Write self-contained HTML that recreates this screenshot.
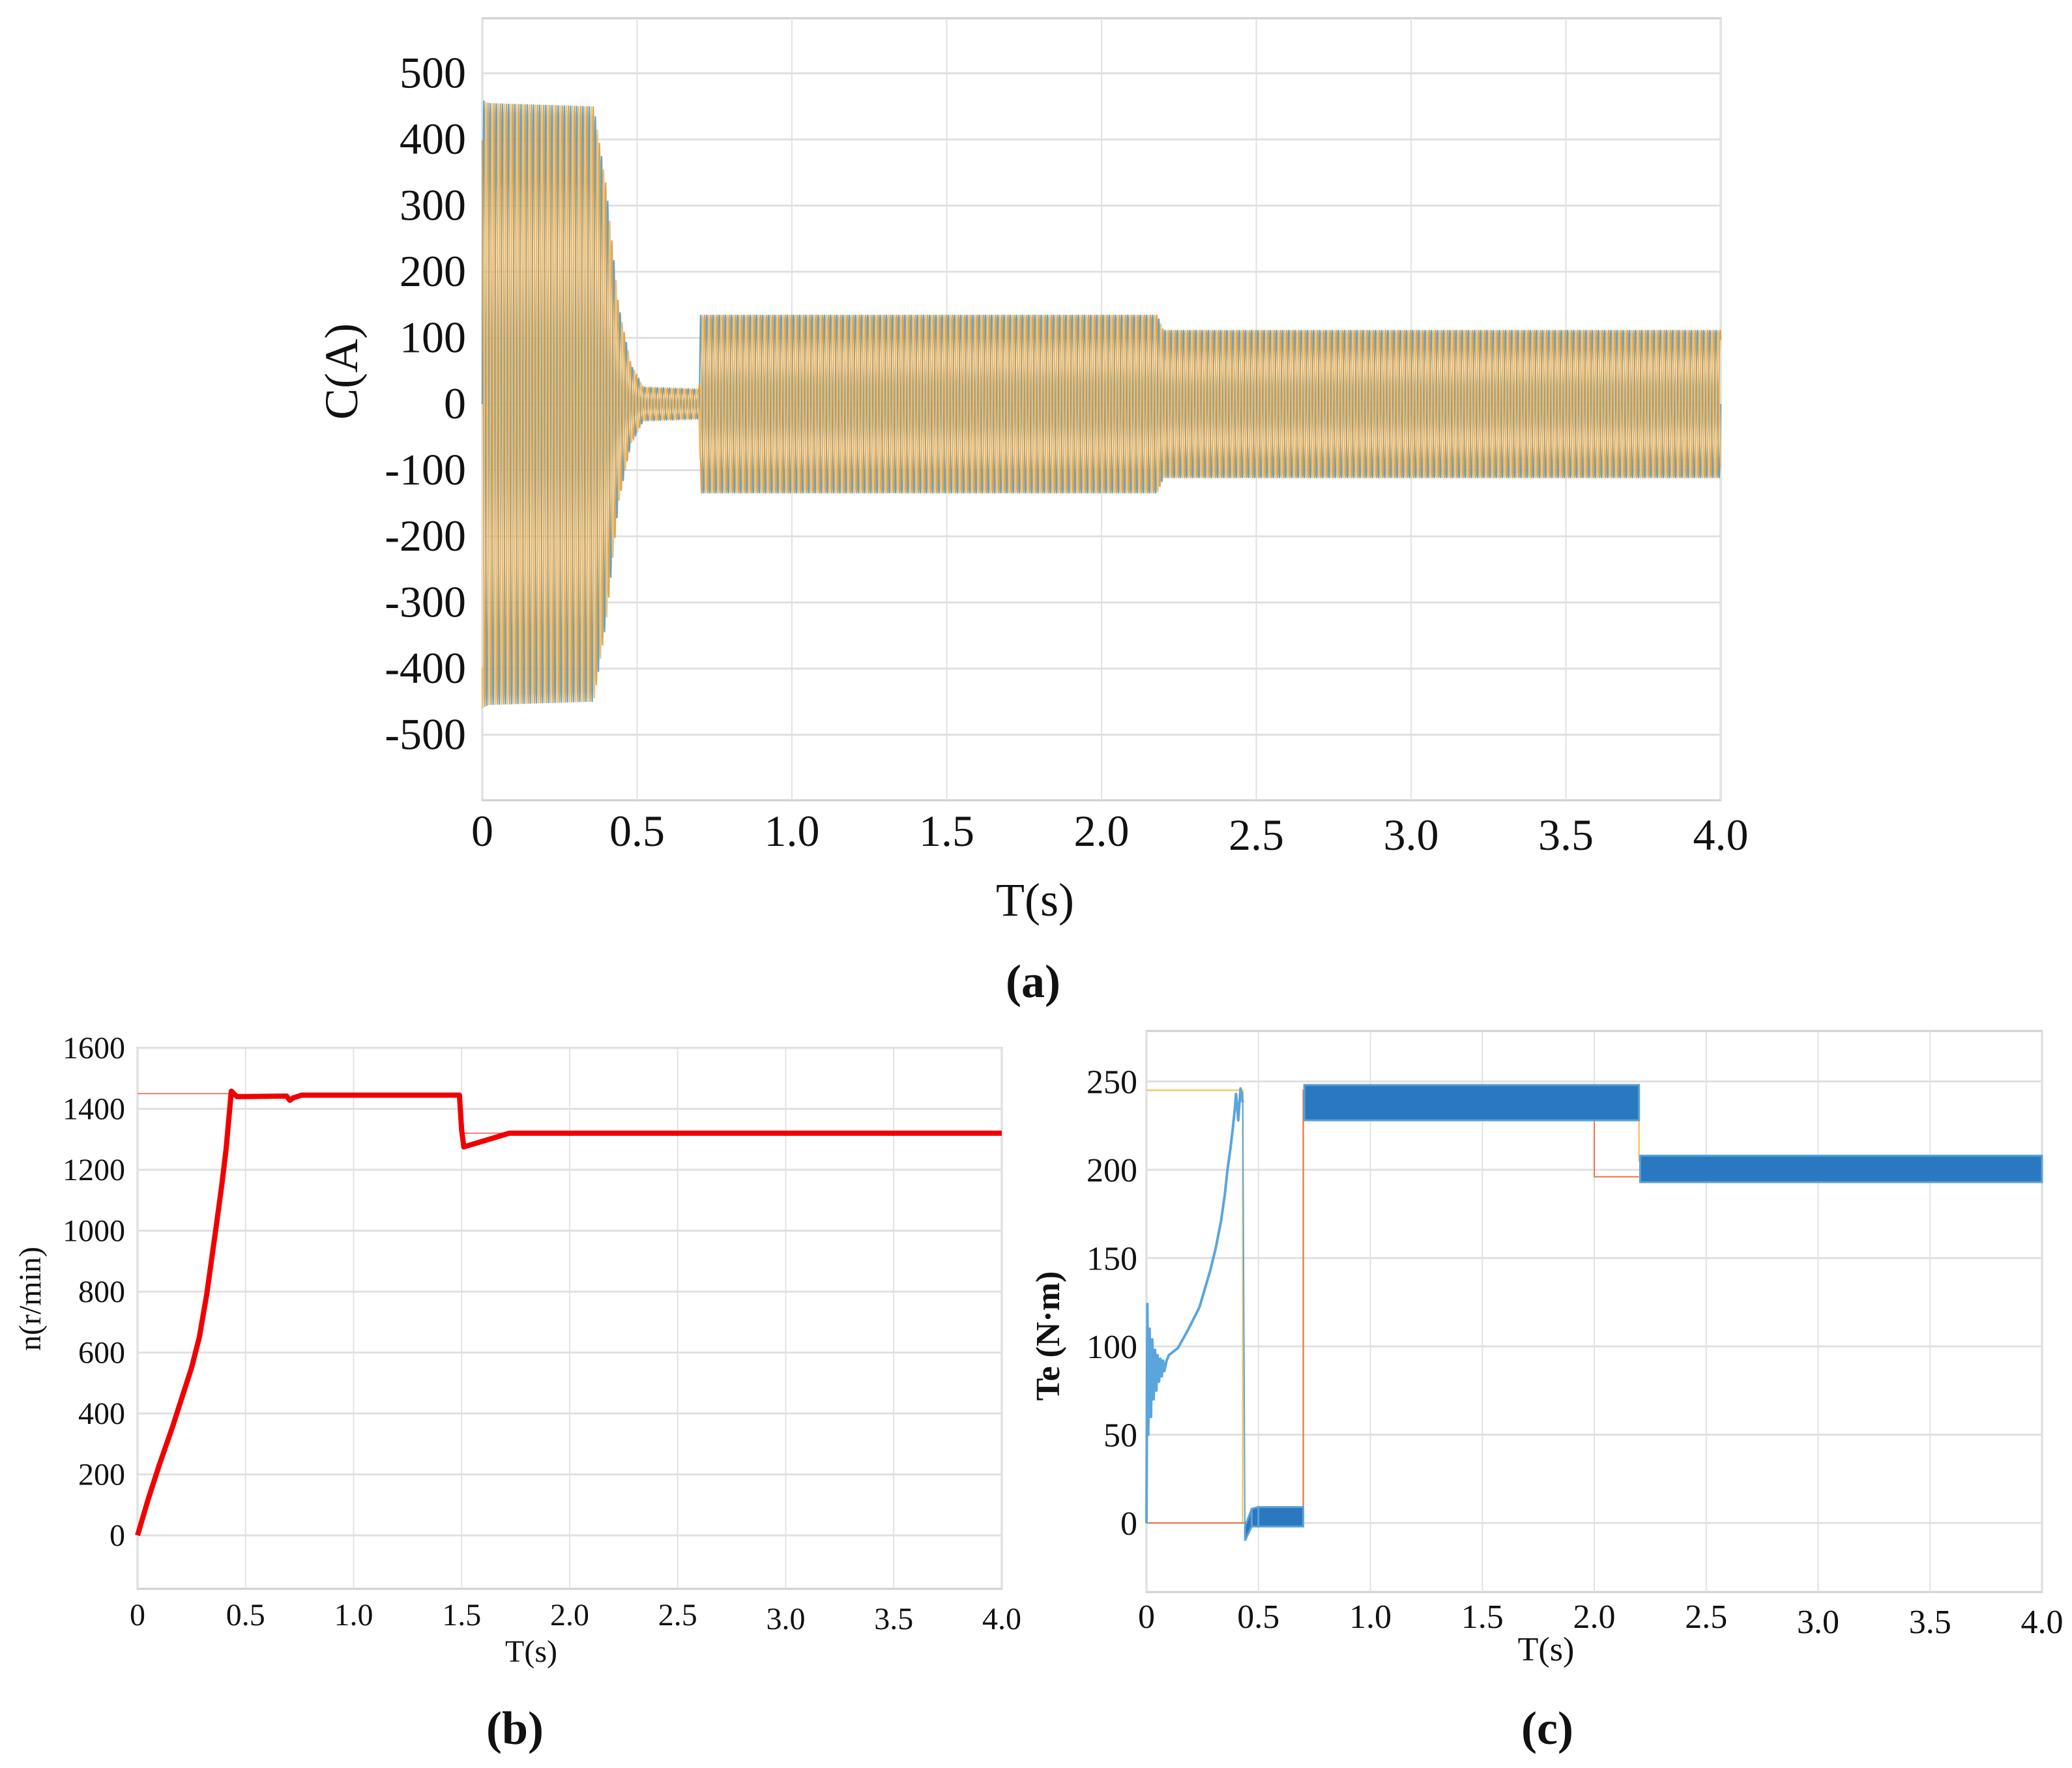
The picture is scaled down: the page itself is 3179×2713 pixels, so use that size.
<!DOCTYPE html>
<html><head><meta charset="utf-8">
<style>
html,body{margin:0;padding:0;background:#fff;}
svg{display:block;font-family:"Liberation Serif",serif;}
</style></head>
<body>
<svg id="fig" width="3179" height="2713" viewBox="0 0 3179 2713" xmlns="http://www.w3.org/2000/svg"></svg>
<script>
// ---------- Chart (a) data: current envelopes ----------
const aTicksX = ["0","0.5","1.0","1.5","2.0","2.5","3.0","3.5","4.0"];
const aTickVals = [0,0.5,1,1.5,2,2.5,3,3.5,4];
const aTicksY = [500,400,300,200,100,0,-100,-200,-300,-400,-500];
const aEnvT = [0,0.02,0.36,0.40,0.44,0.48,0.52,0.70,0.705,2.18,2.2,4.0];
const aEnvA = [460,455,450,330,150,60,25,22,135,135,112,112];
const aFreq = 50;
// ---------- Chart (b) data: speed ----------
const bTicksY = [0,200,400,600,800,1000,1200,1400,1600];
const bSpeedT = [0,0.05,0.1,0.163,0.2,0.25,0.286,0.32,0.363,0.39,0.41,0.434,0.445,0.46,0.69,0.705,0.72,0.76,1.49,1.50,1.51,1.72,4.0];
const bSpeedN = [0,120,230,358,440,550,650,790,1008,1150,1268,1458,1450,1440,1442,1428,1436,1445,1445,1330,1275,1320,1320];
const bRefT = [0,0.45];
const bRefN = [1450,1450];
const bRef2T = [1.5,4.0];
const bRef2N = [1320,1320];
// ---------- Chart (c) data: torque ----------
const cTicksY = [0,50,100,150,200,250];
const cStartT = [0,0.004,0.008,0.014,0.02,0.026,0.032,0.038,0.044,0.05,0.056,0.062,0.068,0.074,0.08,0.09,0.1,0.14,0.18,0.236,0.285,0.31,0.333,0.35,0.362,0.375,0.386,0.395,0.40,0.41,0.42,0.43];
const cStartV = [0,124,50,110,60,104,70,98,75,95,80,93,83,92,86,92,95,99,108,122,143,156,171,186,200,212,224,235,243,228,246,238];
const cBandT = [0.44,0.47,0.5,0.7,0.705,2.2,2.205,4.0];
const cBandLo = [-10,-2,-2,-2,228,228,193,193];
const cBandHi = [-2,8,9,9,248,248,208,208];
const cYellowT = [0,0.43,0.43,0.7,0.7,2.2,2.2,4.0];
const cYellowV = [245,245,0,0,245,245,205,205];
const cRedT = [0,0.44,0.44,0.7,0.7,2.0,2.0,2.2];
const cRedV = [0,0,0,0,245,245,196,196];

const NS="http://www.w3.org/2000/svg";
const svg=document.getElementById('fig');
function el(tag,attrs,parent){const e=document.createElementNS(NS,tag);for(const k in attrs)e.setAttribute(k,attrs[k]);(parent||svg).appendChild(e);return e;}
function txt(s,attrs,parent){const e=el('text',attrs,parent);e.textContent=s;return e;}

function drawFrame(g,box,X,Y,yVals,xVals){
  const bg=el('rect',{x:box.l,y:box.t,width:box.r-box.l,height:box.b-box.t,fill:'#fff',stroke:'#cfcfcf','stroke-width':3},g);
  
  
  xVals.forEach(v=>{const l=el('line',{x1:X(v),x2:X(v),y1:box.t,y2:box.b,stroke:'#e2e2e2','stroke-width':2},g);
    });
  yVals.forEach(v=>{const l=el('line',{x1:box.l,x2:box.r,y1:Y(v),y2:Y(v),stroke:'#e0e0e0','stroke-width':3},g);
    });
}
function interp(ts,vs,t){for(let i=1;i<ts.length;i++){if(t<=ts[i]){const f=(t-ts[i-1])/((ts[i]-ts[i-1])||1);return vs[i-1]+f*(vs[i]-vs[i-1]);}}return vs[vs.length-1];}
function polyPts(ts,vs,X,Y){return ts.map((t,i)=>X(t).toFixed(1)+','+Y(vs[i]).toFixed(1)).join(' ');}

// ===== Chart (a) =====
(function(){
  const g=el('g',{});
  const box={l:740,r:2640,t:28,b:1228};
  const X=t=>box.l+t/4*(box.r-box.l);
  const Y=v=>620-v*1.015;
  drawFrame(g,box,X,Y,aTicksY,aTickVals);
  const cols=['#4a9ad0','#d89a40','#eebb66'];
  const N=aFreq*4*24;
  for(let p=0;p<3;p++){
    let pts=[];
    for(let i=0;i<=N;i++){const t=i/N*4;const A=interp(aEnvT,aEnvA,t);
      pts.push(X(t).toFixed(1)+','+Y(A*Math.sin(2*Math.PI*aFreq*t+p*2.094)).toFixed(1));}
    const pl=el('polyline',{points:pts.join(' '),fill:'none',stroke:cols[p],'stroke-width':2.2,'stroke-opacity':0.9},g);
    
  }
  aTicksY.forEach(v=>{const s=(v<0?'-'+(-v):''+v);const t=txt(s,{x:715,y:Y(v)+22,'font-size':68,'text-anchor':'end',fill:'#111'},g);
    });
  aTicksX.forEach((s,i)=>{const t=txt(s,{x:X(aTickVals[i]),y:1298+(i>=5?6:0),'font-size':68,'text-anchor':'middle',fill:'#111'},g);
    });
  const xt=txt('T(s)',{x:1588,y:1405,'font-size':72,'text-anchor':'middle',fill:'#111'},g);
  
  const yt=txt('C(A)',{x:0,y:0,'font-size':72,'text-anchor':'middle',fill:'#111',transform:'translate(548,570) rotate(-90)'},g);
  
  const cap=txt('(a)',{x:1585,y:1530,'font-size':72,'text-anchor':'middle',fill:'#111','font-weight':'bold'},g);
  
})();

// ===== Chart (b) =====
(function(){
  const g=el('g',{});
  const box={l:211,r:1537,t:1608,b:2438};
  const X=t=>box.l+t/4*(box.r-box.l);
  const Y=v=>2356-v*0.4675;
  drawFrame(g,box,X,Y,bTicksY,aTickVals);
  const r1=el('polyline',{points:polyPts(bRefT,bRefN,X,Y),fill:'none',stroke:'#f08070','stroke-width':2},g);
  
  const r2=el('polyline',{points:polyPts(bRef2T,bRef2N,X,Y),fill:'none',stroke:'#f08070','stroke-width':2},g);
  
  const sp=el('polyline',{points:polyPts(bSpeedT,bSpeedN,X,Y),fill:'none',stroke:'#f00000','stroke-width':8,'stroke-linejoin':'round'},g);
  
  bTicksY.forEach(v=>{const t=txt(''+v,{x:192,y:Y(v)+16,'font-size':48,'text-anchor':'end',fill:'#111'},g);
    });
  aTicksX.forEach((s,i)=>{const t=txt(s,{x:X(aTickVals[i]),y:2494+(i>=6?6:0),'font-size':48,'text-anchor':'middle',fill:'#111'},g);
    });
  const xt=txt('T(s)',{x:815,y:2550,'font-size':48,'text-anchor':'middle',fill:'#111'},g);
  
  const yt=txt('n(r/min)',{x:0,y:0,'font-size':48,'text-anchor':'middle',fill:'#111',transform:'translate(62,1993) rotate(-90)'},g);
  
  const cap=txt('(b)',{x:790,y:2676,'font-size':72,'text-anchor':'middle',fill:'#111','font-weight':'bold'},g);
  
})();

// ===== Chart (c) =====
(function(){
  const g=el('g',{});
  const box={l:1759,r:3133,t:1582,b:2443};
  const X=t=>box.l+t/4*(box.r-box.l);
  const Y=v=>2337-v*2.71;
  drawFrame(g,box,X,Y,cTicksY,aTickVals);
  const yl=el('polyline',{points:polyPts(cYellowT,cYellowV,X,Y),fill:'none',stroke:'#f5c860','stroke-width':2.5},g);
  
  const rd=el('polyline',{points:polyPts(cRedT,cRedV,X,Y),fill:'none',stroke:'#f07050','stroke-width':2},g);
  
  const st=el('polyline',{points:polyPts(cStartT,cStartV,X,Y),fill:'none',stroke:'#5aa5dc','stroke-width':4,'stroke-linejoin':'round'},g);
  
  for(let i=0;i<cBandT.length-1;i++){
    if(cBandT[i+1]-cBandT[i]<0.01) continue;
    const x1=X(cBandT[i]),x2=X(cBandT[i+1]);
    const pts=[x1+','+Y(cBandHi[i]),x2+','+Y(cBandHi[i+1]),x2+','+Y(cBandLo[i+1]),x1+','+Y(cBandLo[i])].join(' ');
    const b=el('polygon',{points:pts,fill:'#2a78c0',stroke:'#5aa0d8','stroke-width':3},g);
    
  }
  const j1=el('line',{x1:X(0.43),x2:X(0.44),y1:Y(244),y2:Y(-10),stroke:'#5aa5dc','stroke-width':2},g);
  
  cTicksY.forEach(v=>{const t=txt(''+v,{x:1745,y:Y(v)+18,'font-size':52,'text-anchor':'end',fill:'#111'},g);
    });
  aTicksX.forEach((s,i)=>{const t=txt(s,{x:X(aTickVals[i]),y:2498+(i>=6?8:0),'font-size':52,'text-anchor':'middle',fill:'#111'},g);
    });
  const xt=txt('T(s)',{x:2372,y:2548,'font-size':52,'text-anchor':'middle',fill:'#111'},g);
  
  const yt=txt('Te (N·m)',{x:0,y:0,'font-size':52,'text-anchor':'middle',fill:'#111','font-weight':'bold',transform:'translate(1625,2050) rotate(-90)'},g);
  
  const cap=txt('(c)',{x:2374,y:2676,'font-size':72,'text-anchor':'middle',fill:'#111','font-weight':'bold'},g);
  
})();
</script>
</body></html>
